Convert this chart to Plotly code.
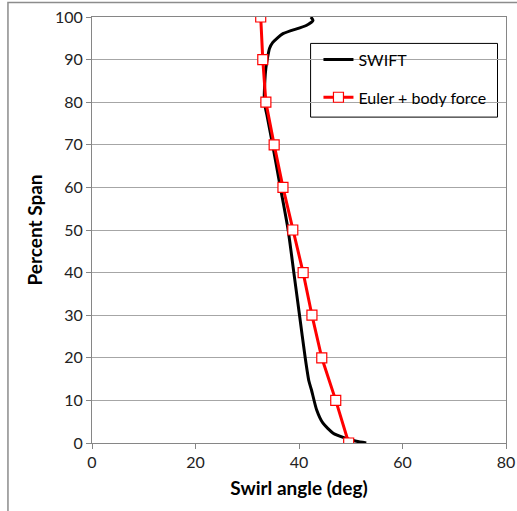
import plotly.graph_objects as go

# SWIFT solution: swirl angle (deg) vs percent span
swift_angle = [53.0, 51.1, 48.8, 46.6, 44.6, 43.4, 42.4, 41.9, 41.2, 40.1, 39.0,
               37.9, 36.4, 34.9, 33.8, 33.3, 33.4, 33.6, 33.9, 34.3, 34.9, 36.9,
               41.4, 42.7, 42.3]
swift_span = [0.0, 0.4, 1.2, 2.3, 4.7, 7.8, 12.5, 14.6, 20, 30, 40,
              50, 60, 70, 77, 80, 85, 88, 90.3, 92.6, 94.0, 96.1,
              98.0, 99.2, 100.0]

# Euler + body force solution
euler_angle = [49.6, 47.1, 44.4, 42.5, 40.8, 38.8, 36.9, 35.2, 33.6, 33.0, 32.6]
euler_span = [0, 10, 20, 30, 40, 50, 60, 70, 80, 90, 100]

x_ticks = [0, 20, 40, 60, 80]
y_ticks = [0, 10, 20, 30, 40, 50, 60, 70, 80, 90, 100]

FONT = "Lato, 'Open Sans', sans-serif"

fig = go.Figure()
fig.add_trace(go.Scatter(
    x=swift_angle, y=swift_span, mode="lines", name="SWIFT",
    line=dict(color="black", width=3, shape="spline", smoothing=0.6),
    legendgroup="a",
))
fig.add_trace(go.Scatter(
    x=euler_angle, y=euler_span, mode="lines+markers", name="Euler + body force",
    line=dict(color="#ff0000", width=3),
    marker=dict(symbol="square", size=10, color="white",
                line=dict(color="#ff0000", width=1.2)),
    legendgroup="b",
))

axis_common = dict(
    showline=True, linecolor="#868686", linewidth=1, mirror=True,
    ticks="outside", ticklen=5, tickcolor="#868686",
    tickfont=dict(family=FONT, size=16, color="#222"),
    zeroline=False, automargin=False,
)

fig.update_layout(
    width=517, height=511,
    margin=dict(l=92, r=11, t=17, b=68),
    paper_bgcolor="white", plot_bgcolor="white",
    xaxis=dict(range=[0, 80], tickvals=x_ticks, showgrid=False,
               title=dict(text="<b>Swirl angle (deg)</b>", standoff=11,
                          font=dict(family=FONT, size=19, color="black")),
               **axis_common),
    yaxis=dict(range=[0, 100], tickvals=y_ticks, showgrid=True,
               gridcolor="#a6a6a6", gridwidth=1,
               title=dict(text="<b>Percent Span</b>", standoff=7,
                          font=dict(family=FONT, size=19, color="black")),
               **axis_common),
    legend=dict(x=0.547, y=0.94, xanchor="left", yanchor="top",
                bgcolor="rgba(0,0,0,0)", borderwidth=0,
                font=dict(family=FONT, size=16, color="black"),
                tracegroupgap=14, traceorder="grouped"),
    showlegend=True,
    shapes=[
        # legend frame
        dict(type="rect", xref="paper", yref="paper",
             x0=0.528, x1=0.9795, y0=0.765, y1=0.938,
             line=dict(color="black", width=1), fillcolor="white", layer="below"),
        # outer chart frame
        dict(type="rect", xref="paper", yref="paper",
             x0=-0.203, x1=1.1, y0=-0.3, y1=1.034,
             line=dict(color="#8c8c8c", width=1.5)),
    ],
)

fig.write_html("out.html")
